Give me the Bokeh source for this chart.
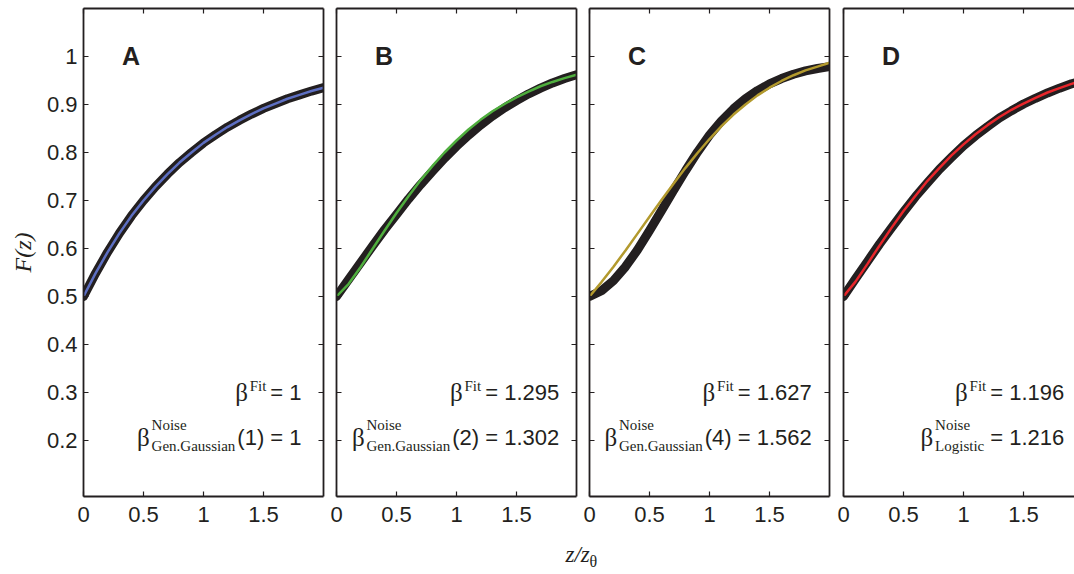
from bokeh.plotting import figure
from bokeh.models import LinearAxis, FixedTicker, Range1d
from bokeh.layouts import row, column
from bokeh.embed import file_html
from bokeh.resources import INLINE
from bokeh.core.properties import value

# ---------------- data ----------------
Z = [0.0, 0.1, 0.2, 0.3, 0.4, 0.5, 0.6, 0.7, 0.8, 0.9, 1.0,
     1.1, 1.2, 1.3, 1.4, 1.5, 1.6, 1.7, 1.8, 1.9, 2.0]

A_noise = [0.500, 0.548, 0.592, 0.632, 0.668, 0.700, 0.729, 0.755, 0.779, 0.800, 0.820,
           0.837, 0.853, 0.867, 0.880, 0.892, 0.902, 0.912, 0.920, 0.928, 0.935]
A_fit = [0.500, 0.548, 0.592, 0.632, 0.668, 0.700, 0.729, 0.755, 0.779, 0.800, 0.820,
         0.837, 0.853, 0.867, 0.880, 0.892, 0.902, 0.912, 0.920, 0.928, 0.935]

B_noise = [0.500, 0.535, 0.570, 0.605, 0.639, 0.671, 0.703, 0.733, 0.761, 0.788, 0.813,
           0.836, 0.857, 0.876, 0.893, 0.908, 0.922, 0.934, 0.945, 0.954, 0.962]
B_fit = [0.500, 0.526, 0.561, 0.599, 0.637, 0.674, 0.709, 0.742, 0.772, 0.800, 0.825,
         0.848, 0.868, 0.886, 0.901, 0.915, 0.927, 0.938, 0.947, 0.955, 0.962]

C_noise = [0.500, 0.512, 0.533, 0.562, 0.597, 0.637, 0.679, 0.721, 0.762, 0.801, 0.836,
           0.866, 0.891, 0.912, 0.929, 0.943, 0.954, 0.963, 0.970, 0.975, 0.979]
C_fit = [0.500, 0.530, 0.562, 0.596, 0.631, 0.666, 0.701, 0.735, 0.768, 0.799, 0.828,
         0.855, 0.879, 0.900, 0.919, 0.935, 0.949, 0.961, 0.971, 0.979, 0.987]

D_noise = [0.500, 0.537, 0.573, 0.609, 0.643, 0.676, 0.708, 0.737, 0.765, 0.790, 0.814,
           0.835, 0.854, 0.872, 0.887, 0.901, 0.913, 0.924, 0.934, 0.943, 0.950]
D_fit = [0.500, 0.531, 0.568, 0.606, 0.643, 0.678, 0.710, 0.741, 0.768, 0.794, 0.817,
         0.838, 0.857, 0.874, 0.889, 0.902, 0.914, 0.925, 0.934, 0.943, 0.950]

PANELS = ["A", "B", "C", "D"]
FIT_BETA = ["1", "1.295", "1.627", "1.196"]
NOISE_DIST = ["Gen.Gaussian", "Gen.Gaussian", "Gen.Gaussian", "Logistic"]
NOISE_ARG = ["(1)", "(2)", "(4)", ""]
NOISE_BETA = ["1", "1.302", "1.562", "1.216"]

X_TICKS = [0, 0.5, 1, 1.5]
X_TICK_LABELS = ["0", "0.5", "1", "1.5"]
Y_TICKS = [0.2, 0.3, 0.4, 0.5, 0.6, 0.7, 0.8, 0.9, 1.0]
Y_TICK_LABELS = ["0.2", "0.3", "0.4", "0.5", "0.6", "0.7", "0.8", "0.9", "1"]

NOISE = [A_noise, B_noise, C_noise, D_noise]
FIT = [A_fit, B_fit, C_fit, D_fit]
FIT_COLORS = ["#5d6fc2", "#4fae3e", "#b39a2e", "#e8262b"]

# ---------------- styling ----------------
INK = "#231f20"
SANS = "Liberation Sans"
SERIF = "Liberation Serif"
FS_MAIN = 22
FS_SCRIPT = 15
FS_BETA = 25

SANS_W = {**{d: 556 for d in "0123456789"}, ".": 278, " ": 278, "=": 584, "(": 333, ")": 333}
SERIF_W = {"F": 556, "i": 278, "t": 278, "N": 722, "o": 500, "s": 389, "e": 444, "G": 722,
           "n": 500, ".": 250, "a": 444, "u": 500, "L": 611, "g": 500, "c": 444, "β": 540}


def tw(s, table, size):
    return sum(table.get(c, 500) for c in s) / 1000.0 * size


def style_axis(ax, ticks, labels):
    ax.ticker = FixedTicker(ticks=ticks)
    ax.minor_tick_line_color = None
    ax.major_tick_in = 5
    ax.major_tick_out = 0
    ax.axis_line_width = 1.8
    ax.axis_line_color = INK
    ax.major_tick_line_color = INK
    ax.major_tick_line_width = 1.2
    if labels is None:
        ax.major_label_overrides = {t: "" for t in ticks}
        ax.major_label_standoff = 0
    else:
        ax.major_label_overrides = {t: l for t, l in zip(ticks, labels)}
        ax.major_label_text_font = SANS
        ax.major_label_text_font_size = f"{FS_MAIN}px"
        ax.major_label_text_color = INK


FRAME_H = 488
BOTTOM_BORDER = 36
LABEL_H = 574 - 8 - FRAME_H - BOTTOM_BORDER
RIGHT_ALIGN = [1.817, 1.856, 1.852, 1.840]
ROW1_Y = 0.30
ROW2_Y = 0.206

figs = []
for i, name in enumerate(PANELS):
    first = i == 0
    last = i == 3
    fw = 231 if last else 240
    xr = Range1d(0, 1.925 if last else 2.0)
    p = figure(frame_width=fw, frame_height=FRAME_H, x_range=xr, y_range=Range1d(0.0833, 1.1),
               output_backend="svg", toolbar_location=None,
               min_border_left=83 if first else 7,
               min_border_right=0 if last else (7 if i == 2 else 6),
               min_border_top=8, min_border_bottom=BOTTOM_BORDER,
               background_fill_color="white", border_fill_color="white")
    p.outline_line_color = None
    p.xgrid.visible = False
    p.ygrid.visible = False

    style_axis(p.xaxis[0], X_TICKS, X_TICK_LABELS)
    p.xaxis[0].major_label_standoff = 10
    style_axis(p.yaxis[0], Y_TICKS, Y_TICK_LABELS if first else None)
    if first:
        p.yaxis[0].major_label_standoff = 6
        p.yaxis[0].axis_label = "F(z)"
        p.yaxis[0].axis_label_text_font = SERIF
        p.yaxis[0].axis_label_text_font_style = "italic"
        p.yaxis[0].axis_label_text_font_size = "24px"
        p.yaxis[0].axis_label_text_color = INK
        p.yaxis[0].axis_label_standoff = 8
    top = LinearAxis()
    style_axis(top, X_TICKS, None)
    p.add_layout(top, "above")
    if not last:
        right = LinearAxis()
        style_axis(right, Y_TICKS, None)
        p.add_layout(right, "right")

    # curves
    p.line(Z, NOISE[i], line_color=INK, line_width=9, line_cap="round", line_join="round")
    p.line(Z, FIT[i], line_color=FIT_COLORS[i], line_width=2.5)

    # panel letter
    p.text(x=[0.32], y=[1.0], text=[name], text_font=value(SANS), text_font_style="bold",
           text_font_size="25px", text_color=INK, text_align="left", text_baseline="middle")

    xa = RIGHT_ALIGN[i]
    # row 1: beta^Fit = value
    main1 = "= " + FIT_BETA[i]
    w_main1 = tw(main1, SANS_W, FS_MAIN)
    w_fit = tw("Fit", SERIF_W, FS_SCRIPT)
    off_fit = -(w_main1 + 4 + w_fit)
    off_beta1 = off_fit - 1 - tw("β", SERIF_W, FS_BETA)
    # row 2: beta^Noise_dist(arg) = value
    main2 = (NOISE_ARG[i] + " = " if NOISE_ARG[i] else "= ") + NOISE_BETA[i]
    w_main2 = tw(main2, SANS_W, FS_MAIN)
    w_scr = max(tw(NOISE_DIST[i], SERIF_W, FS_SCRIPT), tw("Noise", SERIF_W, FS_SCRIPT))
    gap2 = 2 if NOISE_ARG[i] else 6
    off_scr = -(w_main2 + gap2 + w_scr)
    off_beta2 = off_scr - 1 - tw("β", SERIF_W, FS_BETA)

    p.text(x=[xa, xa], y=[ROW1_Y, ROW2_Y], text=[main1, main2], text_font=value(SANS),
           text_font_size=f"{FS_MAIN}px", text_color=INK, text_align="right",
           text_baseline="alphabetic")
    p.text(x=[xa, xa, xa], y=[ROW1_Y, ROW2_Y, ROW2_Y], text=["Fit", "Noise", NOISE_DIST[i]],
           x_offset=[off_fit, off_scr, off_scr], y_offset=[-6, -13, 8],
           text_font=value(SERIF), text_font_size=f"{FS_SCRIPT}px", text_color=INK,
           text_align="left", text_baseline="alphabetic")
    p.text(x=[xa, xa], y=[ROW1_Y, ROW2_Y], text=["β", "β"], x_offset=[off_beta1, off_beta2],
           text_font=value(SERIF), text_font_size=f"{FS_BETA}px", text_color=INK,
           text_align="left", text_baseline="alphabetic")
    figs.append(p)

# x-axis title spanning the panels
lab = figure(width=1074, height=LABEL_H, x_range=Range1d(0, 1074), y_range=Range1d(0, LABEL_H),
             output_backend="svg", toolbar_location=None, min_border=0)
lab.axis.visible = False
lab.xgrid.visible = False
lab.ygrid.visible = False
lab.outline_line_color = None
lab.text(x=[565], y=[LABEL_H - 22], text=["z/z"], text_font=value(SERIF), text_font_style="italic",
         text_font_size="23px", text_color=INK, text_align="left", text_baseline="alphabetic")
lab.text(x=[589], y=[LABEL_H - 29], text=["θ"], text_font=value(SERIF), text_font_size="16px",
         text_color=INK, text_align="left", text_baseline="alphabetic")

layout = column(row(*figs, spacing=0), lab, spacing=0)
open("out.html", "w").write(file_html(layout, INLINE))
